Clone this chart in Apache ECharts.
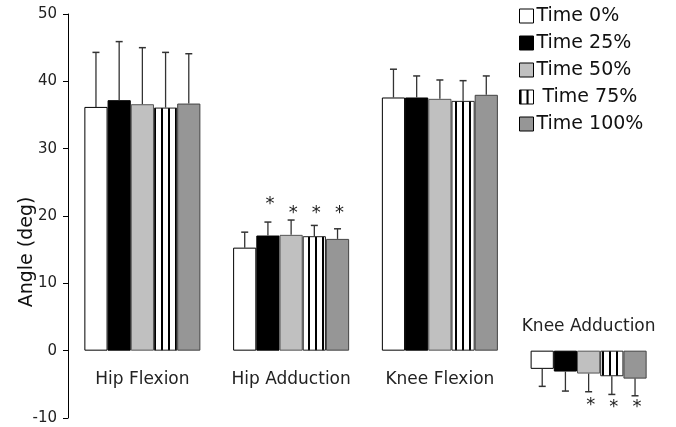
<!DOCTYPE html>
<html>
<head>
<meta charset="utf-8">
<script src="https://cdn.jsdelivr.net/npm/echarts@6/dist/echarts.min.js"></script>
<style>
html,body{margin:0;padding:0;background:#fff;}
#chart{width:676px;height:427px;}
</style>
</head>
<body>
<div id="chart"></div>
<script>
// ---- data ----
const categories = ['Hip Flexion', 'Hip Adduction', 'Knee Flexion', 'Knee Adduction'];
const seriesNames = ['Time 0%', 'Time 25%', 'Time 50%', 'Time 75%', 'Time 100%'];
const time0   = [36.2, 15.3, 37.6, -2.7];
const time25  = [37.2, 17.1, 37.6, -3.1];
const time50  = [36.6, 17.2, 37.4, -3.4];
const time75  = [36.1, 17.0, 37.1, -3.8];
const time100 = [36.7, 16.6, 38.0, -4.15];
const sd0   = [8.1, 2.3, 4.2, 2.6];
const sd25  = [8.7, 2.0, 3.2, 2.9];
const sd50  = [8.4, 2.2, 2.8, 2.7];
const sd75  = [8.2, 1.6, 3.0, 2.7];
const sd100 = [7.4, 1.5, 2.8, 2.55];
// asterisk positions (value units), null = not significant
const star0   = [null, null, null, null];
const star25  = [null, 22.2, null, null];
const star50  = [null, 20.9, null, -7.7];
const star75  = [null, 20.9, null, -8.0];
const star100 = [null, 20.9, null, -8.0];
const yTicks = [-10, 0, 10, 20, 30, 40, 50];

// ---- build ----
const means = [time0, time25, time50, time75, time100];
const sds = [sd0, sd25, sd50, sd75, sd100];
const stars = [star0, star25, star50, star75, star100];

const pc = document.createElement('canvas');
pc.width = 7; pc.height = 8;
const pctx = pc.getContext('2d');
pctx.fillStyle = '#fff'; pctx.fillRect(0, 0, 7, 8);
pctx.fillStyle = '#000'; pctx.fillRect(0, 0, 2, 8);

const fills = ['#ffffff', '#000000', '#c0c0c0', {image: pc, repeat: 'repeat'}, '#969696'];
const borders = ['#000', '#000', '#555', '#222', '#444'];

const catGap = 0.22;
const series = seriesNames.map((n, i) => ({
  name: n,
  type: 'bar',
  xAxisIndex: 0,
  data: means[i],
  barGap: '0%',
  barCategoryGap: (catGap * 100) + '%',
  itemStyle: {color: fills[i], borderColor: borders[i], borderWidth: 1},
  emphasis: {disabled: true},
  z: 2
}));

const errData = [];
for (let s = 0; s < 5; s++) {
  for (let c = 0; c < categories.length; c++) {
    errData.push([c, means[s][c], sds[s][c], s, stars[s][c] == null ? NaN : stars[s][c]]);
  }
}

series.push({
  type: 'custom',
  name: 'err',
  xAxisIndex: 0,
  data: errData,
  z: 5,
  silent: true,
  encode: {x: 0, y: 1},
  renderItem: function (params, api) {
    const c = api.value(0), m = api.value(1), sd = api.value(2), s = api.value(3), st = api.value(4);
    const band = api.size([1, 0])[0];
    const groupW = band * (1 - catGap);
    const bw = groupW / 5;
    const center = api.coord([c, 0])[0];
    const x = center - groupW / 2 + bw * (s + 0.5);
    const dir = m >= 0 ? 1 : -1;
    const p0 = api.coord([c, m]);
    const p1 = api.coord([c, m + dir * sd]);
    const capW = 3.5;
    const children = [
      {type: 'line', shape: {x1: x, y1: p0[1], x2: x, y2: p1[1]}, style: {stroke: '#333', lineWidth: 1.3}},
      {type: 'line', shape: {x1: x - capW, y1: p1[1], x2: x + capW, y2: p1[1]}, style: {stroke: '#333', lineWidth: 1.5}}
    ];
    if (!isNaN(st)) {
      const ps = api.coord([c, st]);
      children.push({type: 'text', x: x + 2, y: ps[1] + 3, style: {text: '*', font: '18px "DejaVu Sans"', fill: '#222', align: 'center', verticalAlign: 'middle'}});
    }
    return {type: 'group', children: children};
  }
});

const chart = echarts.init(document.getElementById('chart'), null, {renderer: 'canvas'});
const option = {
  animation: false,
  backgroundColor: '#fff',
  grid: {left: 68, right: 13, top: 14, bottom: 9, containLabel: false, outerBoundsMode: 'none'},
  legend: {
    data: seriesNames,
    orient: 'vertical',
    left: 514,
    top: 0,
    itemWidth: 14,
    itemHeight: 14,
    itemGap: 5,
    icon: 'rect',
    formatter: function (n) { return n === 'Time 75%' ? ' ' + n : n; },
    itemStyle: {borderColor: '#000', borderWidth: 1},
    textStyle: {fontFamily: 'DejaVu Sans', fontSize: 19, color: '#111', lineHeight: 22, padding: [0, 0, 0, -2]}
  },
  xAxis: [{
    type: 'category',
    data: categories,
    position: 'bottom',
    offset: 0,
    axisLine: {show: false},
    axisTick: {show: false},
    axisLabel: {
      interval: 0,
      hideOverlap: false,
      margin: 20,
      fontFamily: 'DejaVu Sans', fontSize: 17, color: '#222',
      formatter: function (v) { return v === 'Knee Adduction' ? '' : v; }
    },
    splitLine: {show: false}
  }, {
    type: 'category',
    data: categories,
    position: 'bottom',
    offset: 0,
    axisLine: {show: false},
    axisTick: {show: false},
    axisLabel: {
      interval: 0,
      hideOverlap: false,
      inside: true,
      margin: 16,
      fontFamily: 'DejaVu Sans', fontSize: 17, color: '#222',
      formatter: function (v) { return v === 'Knee Adduction' ? v : ''; }
    },
    splitLine: {show: false}
  }],
  yAxis: {
    type: 'value',
    min: yTicks[0],
    max: yTicks[yTicks.length - 1],
    interval: 10,
    name: 'Angle (deg)',
    nameLocation: 'middle',
    nameGap: 31,
    nameMoveOverlap: false,
    nameTextStyle: {fontFamily: 'DejaVu Sans', fontSize: 19, color: '#111', padding: [0, 72, 0, 0]},
    axisLine: {show: true, onZero: false, lineStyle: {color: '#000', width: 1}},
    axisTick: {show: true, length: 5, lineStyle: {color: '#000'}},
    axisLabel: {fontFamily: 'DejaVu Sans', fontSize: 15, color: '#222', margin: 11},
    splitLine: {show: false}
  },
  series: series
};
chart.setOption(option);
// move the category axes (labels) onto the zero line of the value axis
const zeroY = chart.convertToPixel({yAxisIndex: 0}, 0);
const bottomY = chart.convertToPixel({yAxisIndex: 0}, yTicks[0]);
const off = -(bottomY - zeroY);
chart.setOption({xAxis: [{offset: off}, {offset: off}]});
</script>
</body>
</html>
